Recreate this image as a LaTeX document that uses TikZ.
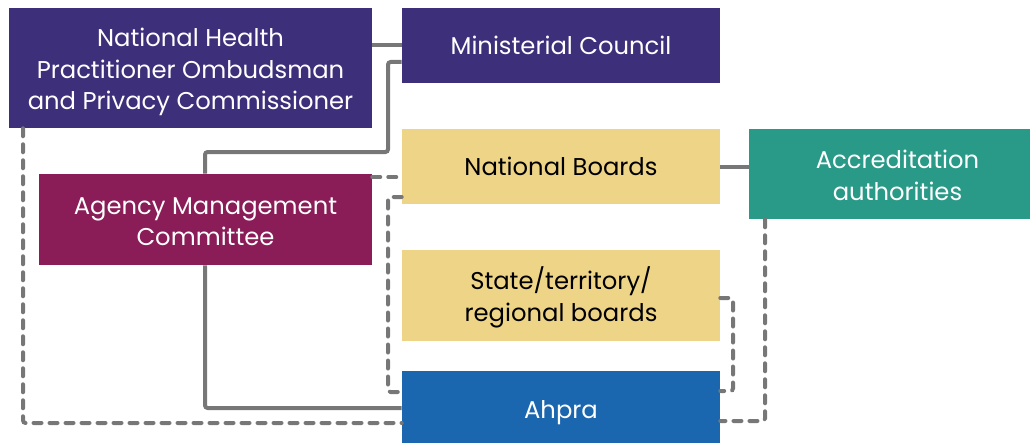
\documentclass[tikz,border=0pt]{standalone}
\usepackage{fontspec}
\setmainfont{Poppins}
\definecolor{cpurple}{HTML}{3D2F7A}
\definecolor{cmag}{HTML}{8A1C58}
\definecolor{cyel}{HTML}{EED486}
\definecolor{cteal}{HTML}{2A9A88}
\definecolor{cblue}{HTML}{1A67B0}
\definecolor{cline}{HTML}{777777}
\newcommand{\lowertxt}[2]{\raisebox{-#1}[\height][\depth]{\begin{tabular}{@{}c@{}}#2\end{tabular}}}
\begin{document}
\begin{tikzpicture}[x=0.75pt,y=-0.75pt,
  box/.style={rectangle, inner sep=0pt, align=center, font=\fontsize{18.2}{23.6}\selectfont},
  dark/.style={box, fill=#1, text=white},
  light/.style={box, fill=cyel, text=black},
  conn/.style={draw=cline, line width=3pt, rounded corners=2pt},
  dconn/.style={conn, line cap=round, dash pattern=on 6pt off 6pt}]
\useasboundingbox (0,0) rectangle (1030,442);
% nodes
\node[dark=cpurple, minimum width=272.25pt, minimum height=90pt] (nh) at (190.5,68) {\lowertxt{3pt}{National Health\\Practitioner Ombudsman\\and Privacy Commissioner}};
\node[dark=cpurple, minimum width=238.5pt, minimum height=56.25pt] (mc) at (561,45.5) {Ministerial Council};
\node[light, minimum width=238.5pt, minimum height=56.25pt] (nb) at (561,166.5) {National Boards};
\node[dark=cteal, minimum width=210.75pt, minimum height=67.5pt] (aa) at (889.5,174) {\lowertxt{3pt}{\hspace{12pt}Accreditation\\\hspace{12pt}authorities}};
\node[dark=cmag, minimum width=249.75pt, minimum height=68.25pt] (amc) at (205.5,219.5) {\lowertxt{3pt}{Agency Management\\Committee}};
\node[light, minimum width=238.5pt, minimum height=68.25pt] (sb) at (561,295.5) {\lowertxt{2.5pt}{State/territory/\\regional boards}};
\node[dark=cblue, minimum width=238.5pt, minimum height=59.25pt] (ah) at (561,410.5) {\lowertxt{1.5pt}{Ahpra}};
% solid connectors
\draw[conn] (nh.east |- 0,45) -- (mc.west |- 0,45);
\draw[conn] (mc.west |- 0,62) -- (388,62) -- (388,152) -- (205,152) -- (amc.north -| 205,0);
\draw[conn] (amc.south -| 205,0) -- (205,408) -- (ah.west |- 0,408);
\draw[conn] (nb.east |- 0,167) -- (aa.west |- 0,167);
% dashed connectors
\draw[dconn] (nh.south -| 23,0) -- (23,423) -- (ah.west |- 0,423);
\draw[dconn] (amc.east |- 0,177) -- (nb.west |- 0,177);
\draw[dconn] (nb.west |- 0,197) -- (388,197) -- (388,392) -- (ah.west |- 0,392);
\draw[dconn] (sb.east |- 0,298) -- (733,298) -- (733,391) -- (ah.east |- 0,391);
\draw[dconn] (aa.south -| 765,0) -- (765,421) -- (ah.east |- 0,421);
\end{tikzpicture}
\end{document}
